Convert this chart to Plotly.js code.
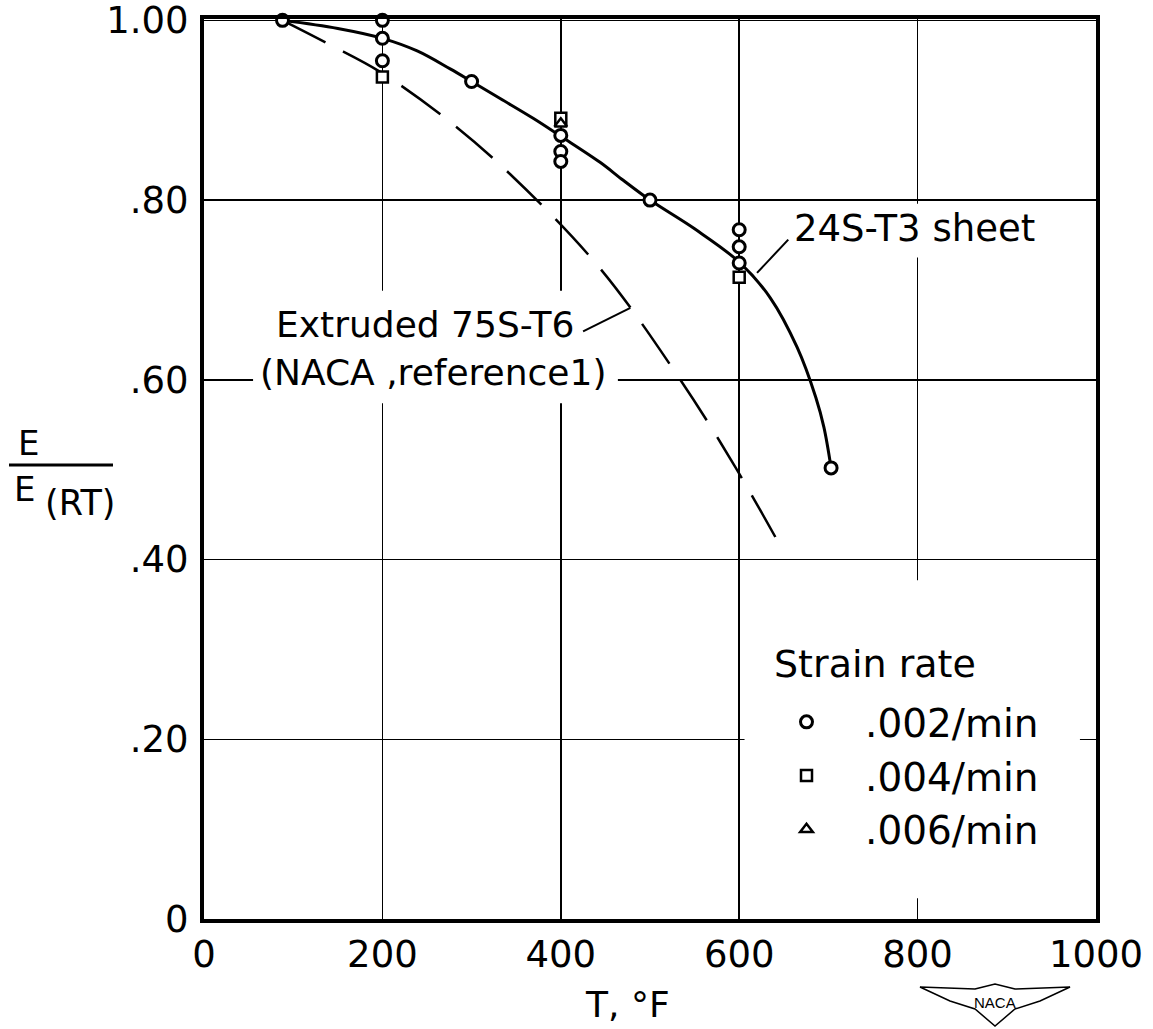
<!DOCTYPE html>
<html>
<head>
<meta charset="utf-8">
<script src="https://cdn.plot.ly/plotly-3.0.1.min.js"></script>
<style>
  html, body { margin: 0; padding: 0; background: #fff; }
  #chart { width: 1153px; height: 1029px; }
</style>
</head>
<body>
<div id="chart"></div>
<script>
// ---- Data ----
// Temperature (deg F) and E/E(RT) for 24S-T3 sheet test points
const circleT = [88, 200, 200, 200, 300, 400, 400, 400, 500, 600, 600, 600, 703];
const circleE = [1.00, 1.00, 0.98, 0.955, 0.932, 0.872, 0.854, 0.843, 0.80, 0.767, 0.748, 0.730, 0.502];

const squareT = [200, 400, 600];
const squareE = [0.937, 0.891, 0.714];

const triangleT = [400];
const triangleE = [0.885];

// Faired curve through 24S-T3 sheet data (solid)
const sheetCurveT = [88, 150, 200, 239, 276, 300, 332, 369, 400, 444, 470, 500, 550, 600, 635, 665, 686, 695, 703];
const sheetCurveE = [1.00, 0.991, 0.98, 0.966, 0.946, 0.932, 0.913, 0.891, 0.871, 0.842, 0.822, 0.80, 0.768, 0.731, 0.691, 0.636, 0.580, 0.547, 0.502];

// Extruded 75S-T6 (NACA reference 1) curve (dashed)
const extrudedT = [88, 141, 197, 272, 343, 444, 534, 595, 649];
const extrudedE = [1.00, 0.973, 0.943, 0.890, 0.829, 0.724, 0.600, 0.504, 0.410];

// Tick labels
const xTickVals = [0, 200, 400, 600, 800, 1000];
const xTickText = ["0", "200", "400", "600", "800", "1000"];
const yTickVals = [0, 0.2, 0.4, 0.6, 0.8, 1.0];
const yTickText = ["0", ".20", ".40", ".60", ".80", "1.00"];

const legendTitle = "Strain rate";
const seriesNames = [".002/min", ".004/min", ".006/min"];

// ---- Plot ----
const FONT = "DejaVu Sans, Liberation Sans, sans-serif";

const traces = [
  {
    x: sheetCurveT, y: sheetCurveE, mode: "lines", showlegend: false, hoverinfo: "skip",
    line: { color: "black", width: 3, shape: "spline", smoothing: 1 }
  },
  {
    x: extrudedT, y: extrudedE, mode: "lines", showlegend: false, hoverinfo: "skip",
    line: { color: "black", width: 2.5, shape: "spline", smoothing: 1, dash: "48px,20px" }
  },
  {
    x: circleT, y: circleE, mode: "markers", name: seriesNames[0], cliponaxis: false,
    marker: { symbol: "circle", size: 12, color: "white", line: { color: "black", width: 3 } }
  },
  {
    x: squareT, y: squareE, mode: "markers", name: seriesNames[1], cliponaxis: false,
    marker: { symbol: "square", size: 11, color: "white", line: { color: "black", width: 2.5 } }
  },
  {
    x: triangleT, y: triangleE, mode: "markers", name: seriesNames[2], cliponaxis: false,
    marker: { symbol: "triangle-up", size: 11, color: "white", line: { color: "black", width: 2.5 } }
  }
];

// pixel -> paper helpers (plot area is 204..1096 x, 19..919 y)
const L = 204, R = 57, T = 19, B = 110;
const PW = 1153 - L - R, PH = 1029 - T - B;
const px = v => (v - L) / PW;
const py = v => (1029 - B - v) / PH;

const layout = {
  width: 1153, height: 1029,
  margin: { l: L, r: R, t: T, b: B },
  paper_bgcolor: "white", plot_bgcolor: "white",
  font: { family: FONT, color: "black", size: 36 },
  showlegend: true,
  legend: {
    x: px(748), xanchor: "left", y: py(690), yanchor: "top",
    bgcolor: "rgba(0,0,0,0)", borderwidth: 0,
    font: { family: FONT, size: 39, color: "black" },
    itemwidth: 107, tracegroupgap: 0
  },
  xaxis: {
    range: [0, 1000], tickvals: xTickVals, ticktext: xTickText,
    showgrid: true, gridcolor: "black", gridwidth: 1.5,
    showline: true, linecolor: "black", linewidth: 4, mirror: true,
    ticks: "", zeroline: false, ticklabelstandoff: 0,
    tickfont: { family: FONT, size: 37, color: "black" },
    fixedrange: true
  },
  yaxis: {
    range: [0, 1.0015], tickvals: yTickVals, ticktext: yTickText,
    showgrid: true, gridcolor: "black", gridwidth: 1.5,
    showline: true, linecolor: "black", linewidth: 4, mirror: true,
    ticks: "", zeroline: false, ticklabelstandoff: 4, ticklabeloverflow: "allow",
    tickfont: { family: FONT, size: 37, color: "black" },
    fixedrange: true
  },
  shapes: [
    // blank the grid behind the labels (as in the original drawing)
    { type: "rect", layer: "between", xref: "x", yref: "y", x0: 55, x1: 464, y0: 0.574, y1: 0.699,
      fillcolor: "white", line: { width: 0 } },
    { type: "rect", layer: "between", xref: "x", yref: "y", x0: 655, x1: 943, y0: 0.736, y1: 0.796,
      fillcolor: "white", line: { width: 0 } },
    { type: "rect", layer: "between", xref: "x", yref: "y", x0: 606, x1: 982, y0: 0.023, y1: 0.377,
      fillcolor: "white", line: { width: 0 } },
    // leader lines
    { type: "line", xref: "x", yref: "y", x0: 620, y0: 0.719, x1: 655, y1: 0.756,
      line: { color: "black", width: 2 } },
    { type: "line", xref: "x", yref: "y", x0: 425, y0: 0.654, x1: 478, y1: 0.680,
      line: { color: "black", width: 2 } },
    // fraction bar of the y label
    { type: "line", xref: "paper", yref: "paper", x0: px(9), x1: px(113), y0: py(465), y1: py(465),
      line: { color: "black", width: 3 } },
    // NACA wings emblem
    { type: "path", xref: "paper", yref: "paper",
      path: "M " + px(920) + " " + py(987) + " L " + px(975) + " " + py(989) + " L " + px(995) + " " + py(984) +
            " L " + px(1015) + " " + py(989) + " L " + px(1070) + " " + py(987) + " L " + px(1040) + " " + py(1001) +
            " L " + px(1015) + " " + py(1009) + " L " + px(995) + " " + py(1026) + " L " + px(975) + " " + py(1009) +
            " L " + px(950) + " " + py(1001) + " Z",
      line: { color: "black", width: 1.5 }, fillcolor: "white" }
  ],
  annotations: [
    { text: legendTitle, xref: "paper", yref: "paper", x: px(772), y: py(664), xanchor: "left", yanchor: "middle",
      showarrow: false, font: { family: FONT, size: 38, color: "black" } },
    { text: "24S-T3 sheet", xref: "x", yref: "y", x: 659, y: 0.768, xanchor: "left", yanchor: "middle",
      showarrow: false, font: { family: FONT, size: 37, color: "black" } },
    { text: "Extruded 75S-T6", xref: "x", yref: "y", x: 248, y: 0.662, xanchor: "center", yanchor: "middle",
      showarrow: false, font: { family: FONT, size: 36, color: "black" } },
    { text: "(NACA ,reference1)", xref: "x", yref: "y", x: 257, y: 0.608, xanchor: "center", yanchor: "middle",
      showarrow: false, font: { family: FONT, size: 36, color: "black" } },
    // x-axis title
    { text: "T, °F", xref: "paper", yref: "paper", x: px(627), y: py(982), xanchor: "center", yanchor: "top",
      showarrow: false, font: { family: FONT, size: 36, color: "black" } },
    // y-axis title as a fraction E / E(RT)
    { text: "E", xref: "paper", yref: "paper", x: px(28), y: py(443), xanchor: "center", yanchor: "middle",
      showarrow: false, font: { family: FONT, size: 34, color: "black" } },
    { text: "E", xref: "paper", yref: "paper", x: px(24), y: py(489), xanchor: "center", yanchor: "middle",
      showarrow: false, font: { family: FONT, size: 34, color: "black" } },
    { text: "(RT)", xref: "paper", yref: "paper", x: px(80), y: py(503), xanchor: "center", yanchor: "middle",
      showarrow: false, font: { family: FONT, size: 35, color: "black" } },
    { text: "NACA", xref: "paper", yref: "paper", x: px(995), y: py(1003), xanchor: "center", yanchor: "middle",
      showarrow: false, font: { family: "Liberation Sans Narrow, Liberation Sans, sans-serif", size: 15, color: "black" } }
  ]
};

Plotly.newPlot("chart", traces, layout, { displayModeBar: false, staticPlot: true });
</script>
</body>
</html>
